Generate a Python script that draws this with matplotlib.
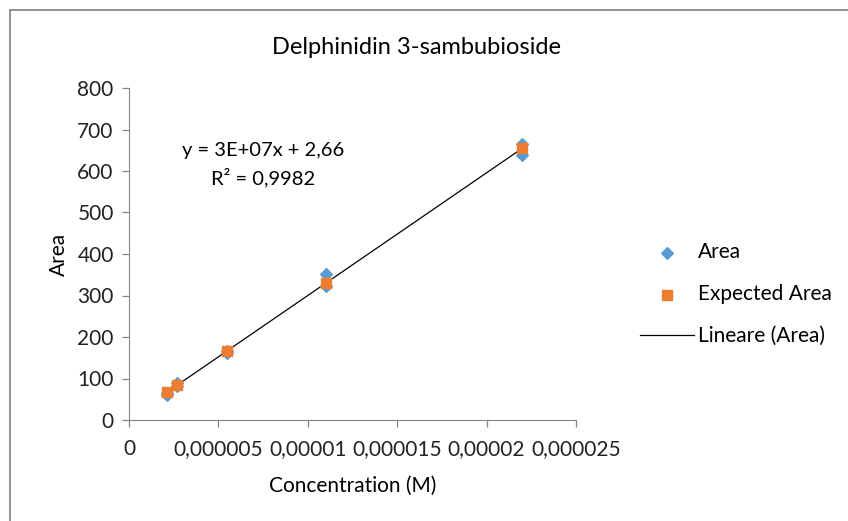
import numpy as np
import matplotlib.pyplot as plt
from matplotlib.patches import Rectangle

# data
conc = [2.1e-6, 2.1e-6, 2.7e-6, 2.7e-6, 5.5e-6, 5.5e-6, 1.1e-5, 1.1e-5, 2.2e-5, 2.2e-5]
area = [60, 66, 90, 82, 162, 166, 352, 322, 666, 638]
conc_exp = [2.1e-6, 2.7e-6, 5.5e-6, 1.1e-5, 2.2e-5]
area_exp = [68, 85, 167, 330, 655]

x_ticks = [0, 0.000005, 0.00001, 0.000015, 0.00002, 0.000025]
x_labels = ["0", "0,000005", "0,00001", "0,000015", "0,00002", "0,000025"]
y_ticks = [0, 100, 200, 300, 400, 500, 600, 700, 800]

plt.rcParams['font.family'] = ['Lato', 'DejaVu Sans']
grey = "#868686"
fs = 15

fig = plt.figure(figsize=(8.48, 5.21), dpi=100)
ax = fig.add_axes([129 / 848, 1 - 420 / 521, 447 / 848, 332 / 521])

# outer chart border
fig.patches.append(Rectangle((10 / 848, -0.1), 1.2, 1 - 10 / 521 + 0.1,
                             transform=fig.transFigure, fill=False,
                             edgecolor="#7f7f7f", linewidth=1.2))

# trend line (least squares on Area)
slope, intercept = np.polyfit(conc, area, 1)
xl = np.array([min(conc), max(conc)])
ax.plot(xl, slope * xl + intercept, color="black", linewidth=0.9,
        label="Lineare (Area)", zorder=2)

ax.scatter(conc, area, marker="D", s=36, color="#5B9BD5", label="Area", zorder=3)
ax.scatter(conc_exp, area_exp, marker="s", s=48, color="#ED7D31",
           label="Expected Area", zorder=4)

ax.set_xlim(0, 0.000025)
ax.set_ylim(0, 800)
ax.set_xticks(x_ticks)
ax.set_xticklabels(x_labels)
ax.set_yticks(y_ticks)

for s in ["top", "right"]:
    ax.spines[s].set_visible(False)
for s in ["left", "bottom"]:
    ax.spines[s].set_color(grey)
ax.tick_params(colors=grey, labelcolor="#222222", labelsize=fs, length=5, width=0.9)
ax.tick_params(axis="x", pad=9)
ax.tick_params(axis="y", pad=6)

fig.text(416 / 848, 1 - 48 / 521, "Delphinidin 3-sambubioside", fontsize=17,
         ha="center", va="center")
ax.set_xlabel("Concentration (M)", fontsize=fs, labelpad=12)
ax.set_ylabel("Area", fontsize=fs, labelpad=6)

ax.text(7.5e-6, 650, "y = 3E+07x + 2,66", fontsize=14.5, ha="center", va="center")
ax.text(7.5e-6, 585, "R² = 0,9982", fontsize=14.5, ha="center", va="center")

h, l = ax.get_legend_handles_labels()
order = [1, 2, 0]
ax.legend([h[i] for i in order], [l[i] for i in order],
          loc="center left", bbox_to_anchor=(621 / 848, 1 - 294 / 521),
          bbox_transform=fig.transFigure, frameon=False, fontsize=fs,
          labelspacing=1.05, handlelength=2.6, handletextpad=0.2)

fig.savefig("out.png", dpi=100)
